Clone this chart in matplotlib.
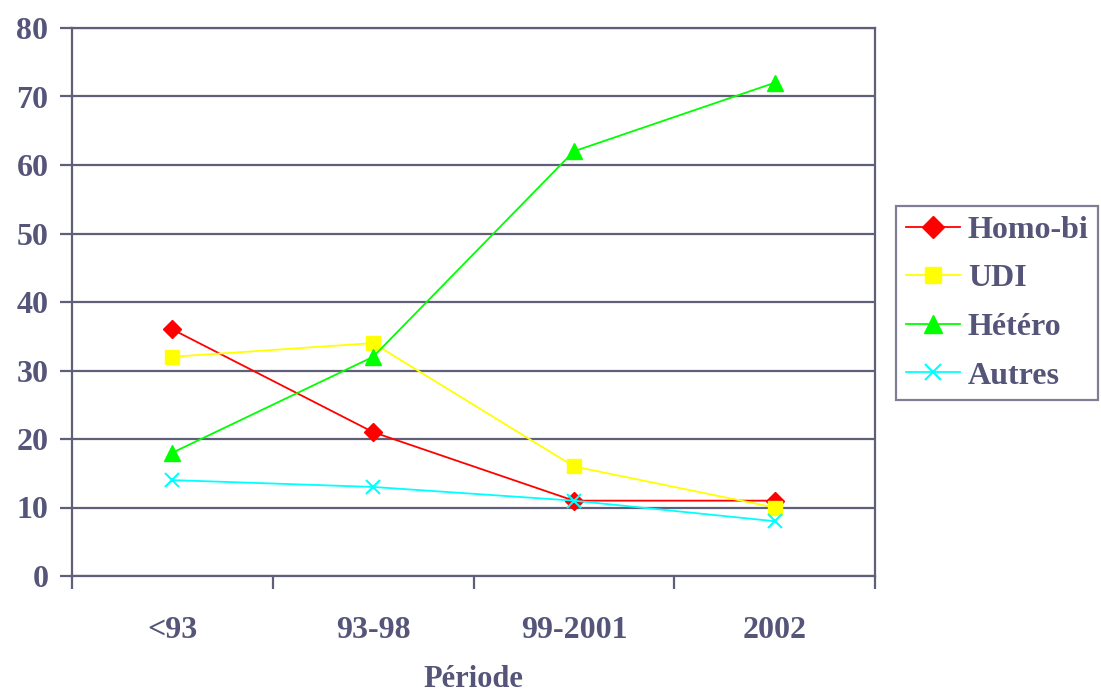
import matplotlib
matplotlib.use("Agg")
import matplotlib.pyplot as plt
from matplotlib.ticker import FixedLocator

categories = ["<93", "93-98", "99-2001", "2002"]
homo_bi = [36, 21, 11, 11]
udi = [32, 34, 16, 10]
hetero = [18, 32, 62, 72]
autres = [14, 13, 11, 8]
yticks = [0, 10, 20, 30, 40, 50, 60, 70, 80]

plt.rcParams['font.family'] = ['Liberation Serif', 'DejaVu Serif']
plt.rcParams['font.weight'] = 'bold'
txt = '#55557a'
axc = '#5f5f7a'

fig = plt.figure(figsize=(11.01, 6.93), dpi=100)
ax = fig.add_axes([72/1101, 1-576/693, (875-72)/1101, (576-28)/693])

x = list(range(len(categories)))
ax.plot(x, homo_bi, color='#FF0000', marker='D', markersize=9, lw=1.3, label='Homo-bi', zorder=3)
ax.plot(x, udi, color='#FFFF00', marker='s', markersize=10, lw=1.3, label='UDI', zorder=4)
ax.plot(x, hetero, color='#00FF00', marker='^', markersize=11, lw=1.3, label='Hétéro', zorder=5)
ax.plot(x, autres, color='#00FFFF', marker='x', markersize=10, mew=1.5, lw=1.3, label='Autres', zorder=6)

ax.set_xlim(-0.5, 3.5)
ax.set_ylim(0, 80)
ax.set_yticks(yticks)
ax.set_yticklabels([str(v) for v in yticks])
ax.yaxis.grid(True, color=axc, lw=1.6)
ax.set_axisbelow(True)

ax.set_xticks(x)
ax.set_xticklabels(categories)
ax.xaxis.set_minor_locator(FixedLocator([-0.5, 0.5, 1.5, 2.5, 3.5]))
ax.tick_params(axis='x', which='major', length=0, pad=29, labelsize=23, colors=txt)
ax.tick_params(axis='x', which='minor', length=9, width=1.6, color=axc, direction='out')
ax.tick_params(axis='y', length=9, width=1.6, color=axc, pad=8, labelsize=23, labelcolor=txt)

for s in ax.spines.values():
    s.set_color(axc)
    s.set_linewidth(1.6)

ax.set_xlabel('Période', fontsize=22, color=txt, labelpad=14, fontweight='bold')

leg = fig.legend(loc='upper left', bbox_to_anchor=(896/1101, 1-206/693), fontsize=23,
                 frameon=True, fancybox=False, edgecolor=axc, handlelength=1.7,
                 handletextpad=0.25, borderpad=0.3, labelspacing=0.6, borderaxespad=0,
                 markerscale=1.2)
leg.get_frame().set_linewidth(1.6)
for t in leg.get_texts():
    t.set_color(txt)

fig.savefig('out.png', dpi=100)
